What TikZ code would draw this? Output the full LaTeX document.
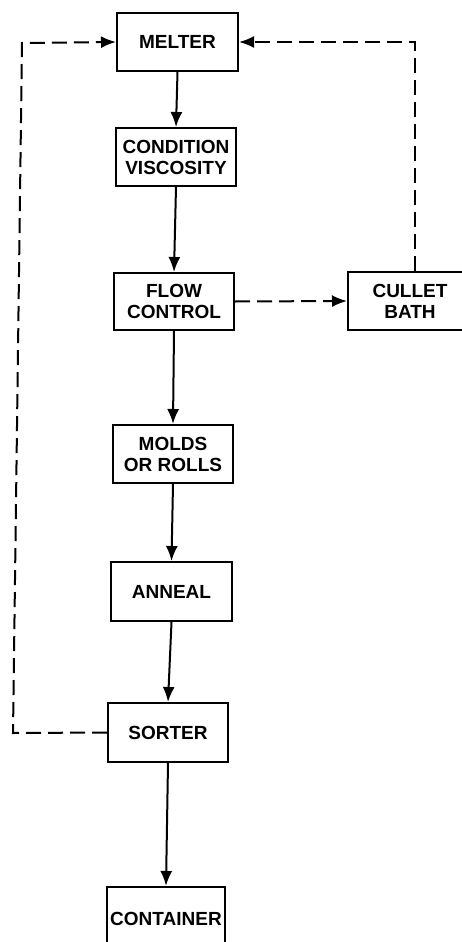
\documentclass[tikz,border=0pt]{standalone}
\usepackage{fontspec}
\setmainfont{Liberation Sans}
\usetikzlibrary{arrows.meta}
\tikzset{
  box/.style={draw, line width=2pt, rectangle, align=center, inner sep=2pt,
    font=\fontsize{19}{21}\selectfont\bfseries},
  tip/.style={-{Latex[length=15pt,width=12pt]}},
  arr/.style={line width=2pt, tip},
  dsh/.style={line width=2pt, dash pattern=on 15pt off 7pt},
}
\begin{document}
\begin{tikzpicture}[x=1pt,y=-1pt]
\useasboundingbox (0,0) rectangle (462,942);
\clip (0,0) rectangle (462,942);
\node[box, minimum width=121pt, minimum height=58pt] (melter) at (177.5,42) {MELTER};
\node[box, minimum width=120pt, minimum height=58pt] (cond) at (176,157) {CONDITION\\VISCOSITY};
\node[box, minimum width=120pt, minimum height=57pt] (flow) at (174,301.5) {FLOW\\CONTROL};
\node[box, minimum width=124pt, minimum height=58pt] (cullet) at (410,301) {CULLET\\BATH};
\node[box, minimum width=120pt, minimum height=58pt] (molds) at (173,454) {MOLDS\\OR ROLLS};
\node[box, minimum width=121pt, minimum height=59pt] (anneal) at (171.5,591.5) {ANNEAL};
\node[box, minimum width=120pt, minimum height=59pt] (sorter) at (168,732.5) {SORTER};
\node[box, minimum width=118pt, minimum height=63pt, text depth=0pt] (container) at (166,918.5) {CONTAINER};
\draw[arr] (melter.south) -- (cond.north);
\draw[arr] (cond.south) -- (flow.north);
\draw[arr] (flow.south) -- (molds.north);
\draw[arr] (molds.south) -- (anneal.north);
\draw[arr] (anneal.south) -- (sorter.north);
\draw[arr] (sorter.south) -- (container.north);
\draw[dsh, tip] (flow.east) -- (cullet.west);
\coordinate (bl) at (13,733);
\coordinate (tl) at (22,43);
\draw[dsh, tip] (sorter.west) -- (bl) -- (tl) -- (melter.west);
\coordinate (tr) at (415,42);
\draw[dsh, tip] (tr |- cullet.north) -- (tr) -- (melter.east);
\end{tikzpicture}
\end{document}
